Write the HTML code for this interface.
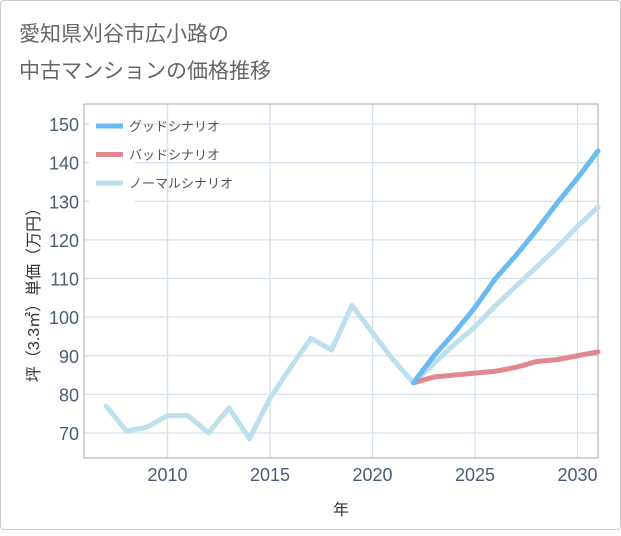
<!DOCTYPE html>
<html><head><meta charset="utf-8">
<style>
body{margin:0;background:#fff;}
.card{position:absolute;left:0;top:0;width:619px;height:528px;border:1px solid #ccc;border-radius:4px;background:#fff;}
text{font-family:"Liberation Sans","Noto Sans CJK JP",sans-serif;}
</style></head><body>
<div class="card">
<svg id="chart" width="621" height="530">
<text x="18" y="40" font-size="21" fill="#666">愛知県刈谷市広小路の</text>
<text x="18" y="77" font-size="21" fill="#666">中古マンションの価格推移</text>
<g id="grid"></g>
<rect x="83" y="103" width="514" height="354" fill="none" stroke="#aaa" stroke-width="1"/>
<g id="series"></g>
<g id="legend"></g>
<text x="340" y="514" font-size="16" fill="#333" text-anchor="middle">年</text>
<text transform="translate(38,290) rotate(-90)" font-size="16" fill="#333" text-anchor="middle">坪（3.3㎡）単価（万円）</text>
</svg>
</div>
<script>
const years=[2007,2008,2009,2010,2011,2012,2013,2014,2015,2016,2017,2018,2019,2020,2021,2022,2023,2024,2025,2026,2027,2028,2029,2030,2031];
const normal=[77,70.5,71.5,74.5,74.5,70,76.5,68.5,79,87,94.5,91.5,103,96,89,83,88,93,97.5,103,108,113,118,123.5,128.5];
const goodYears=[2022,2023,2024,2025,2026,2027,2028,2029,2030,2031];
const good=[83,90,96,102.5,110,116,122.5,129.5,136,143];
const bad=[83,84.5,85,85.5,86,87,88.5,89,90,91];
const yTicks=[70,80,90,100,110,120,130,140,150];
const xTicks=[2010,2015,2020,2025,2030];
const NS='http://www.w3.org/2000/svg';
const X=y=>105+(y-2007)*20.5;
const Y=v=>432-(v-70)*3.8625;
function mk(t,a,p){const e=document.createElementNS(NS,t);for(const k in a)e.setAttribute(k,a[k]);p.appendChild(e);return e;}
const grid=document.getElementById('grid');
yTicks.forEach(v=>{
 const l=mk('line',{x1:83,x2:597,y1:Y(v),y2:Y(v),stroke:'#d5e1ec','stroke-width':1.3},grid);
 
 
 const t=mk('text',{x:78,y:Y(v)+7,'font-size':18,fill:'#4a5d75','text-anchor':'end'},grid);t.textContent=v;
 
 
});
xTicks.forEach(v=>{
 const l=mk('line',{x1:X(v),x2:X(v),y1:103,y2:457,stroke:'#d5e1ec','stroke-width':1.3},grid);
 
 
 const t=mk('text',{x:X(v),y:480,'font-size':18,fill:'#4a5d75','text-anchor':'middle'},grid);t.textContent=v;
 
 
});
const ser=document.getElementById('series');
function line(xs,vs,c,name){const p=mk('polyline',{points:xs.map((x,i)=>X(x)+','+Y(vs[i])).join(' '),fill:'none',stroke:c,'stroke-width':5,'stroke-linejoin':'round','stroke-linecap':'round'},ser);
 
 }
line(years,normal,'#bde0ef','normal-scenario-line');
line(goodYears,bad,'#e08890','bad-scenario-line');
line(goodYears,good,'#6bbaf0','good-scenario-line');
const lg=document.getElementById('legend');
const bg=mk('rect',{x:88,y:110,width:46,height:92,fill:'#fff'},lg);
const items=[['グッドシナリオ','#6bbaf0'],['バッドシナリオ','#e08890'],['ノーマルシナリオ','#bde0ef']];
items.forEach((it,i)=>{
 const y=125+i*28.5;
 const g=mk('g',{},lg);
 
 
 mk('line',{x1:95,x2:122,y1:y,y2:y,stroke:it[1],'stroke-width':5},g);
 const t=mk('text',{x:128,y:y+5,'font-size':13,fill:'#555'},g);t.textContent=it[0];
});
</script>
</body></html>
